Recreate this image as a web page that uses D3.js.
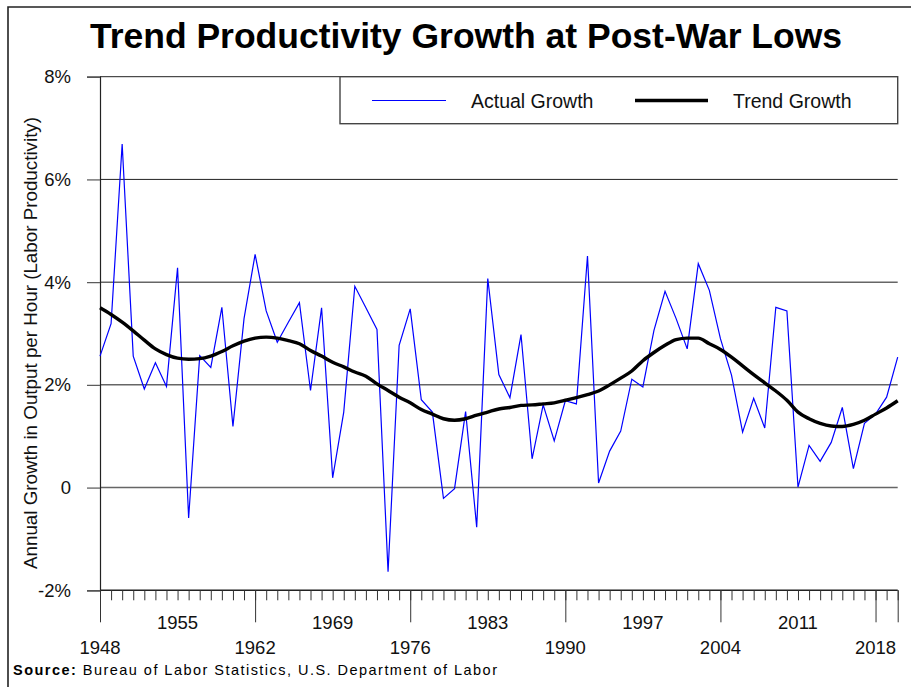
<!DOCTYPE html>
<html><head><meta charset="utf-8">
<script src="https://cdn.jsdelivr.net/npm/d3@7"></script>
<style>
html,body{margin:0;padding:0;background:#fff;}
svg{display:block;font-family:"Liberation Sans",Arial,sans-serif;}
</style></head>
<body>
<svg id="chart" width="911" height="687"></svg>
<script>
const years = [1948,1949,1950,1951,1952,1953,1954,1955,1956,1957,1958,1959,1960,1961,1962,1963,1964,1965,1966,1967,1968,1969,1970,1971,1972,1973,1974,1975,1976,1977,1978,1979,1980,1981,1982,1983,1984,1985,1986,1987,1988,1989,1990,1991,1992,1993,1994,1995,1996,1997,1998,1999,2000,2001,2002,2003,2004,2005,2006,2007,2008,2009,2010,2011,2012,2013,2014,2015,2016,2017,2018,2019,2020];
const actualGrowth = [2.56,3.19,6.69,2.56,1.92,2.43,1.97,4.28,-0.59,2.57,2.34,3.51,1.19,3.29,4.54,3.44,2.83,3.22,3.60,1.89,3.50,0.19,1.47,3.92,3.50,3.08,-1.64,2.77,3.48,1.71,1.47,-0.21,-0.02,1.48,-0.77,4.07,2.20,1.75,2.98,0.56,1.61,0.91,1.69,1.63,4.51,0.09,0.71,1.10,2.11,1.96,3.06,3.82,3.29,2.70,4.36,3.84,2.90,2.19,1.08,1.74,1.16,3.51,3.44,0.01,0.82,0.51,0.88,1.56,0.37,1.25,1.43,1.76,2.54];
const trendGrowth = [3.50,3.37,3.22,3.05,2.87,2.70,2.59,2.52,2.50,2.51,2.56,2.65,2.76,2.85,2.91,2.93,2.91,2.86,2.80,2.67,2.56,2.44,2.35,2.25,2.17,2.02,1.89,1.76,1.65,1.52,1.43,1.34,1.31,1.34,1.41,1.47,1.53,1.56,1.60,1.61,1.63,1.65,1.70,1.75,1.81,1.88,2.00,2.13,2.27,2.47,2.63,2.77,2.88,2.91,2.91,2.80,2.69,2.54,2.37,2.20,2.04,1.88,1.70,1.47,1.34,1.25,1.20,1.19,1.23,1.31,1.43,1.55,1.69];
const yTicks = [-2,0,2,4,6,8];
const yTickLabels = ["-2%","0","2%","4%","6%","8%"];
const xLabelsLow = [1948,1962,1976,1990,2004,2018];
const xLabelsHigh = [1955,1969,1983,1997,2011];
const xMajorTicks = [1948,1962,1976,1990,2004,2018,2020];

const svg = d3.select("#chart");
const L = 100, R = 897.7, T = 76.7, B = 590.3;
const x = d3.scaleLinear().domain([1948,2020]).range([L,R]);
const y = d3.scaleLinear().domain([-2,8]).range([B,T]);

// outer frame
svg.append("path").attr("d","M8,690 L8,7 L915,7").attr("fill","none").attr("stroke","#222").attr("stroke-width",1.6);

// title
svg.append("text").attr("x",466).attr("y",47.5).attr("text-anchor","middle")
  .attr("font-size",35.5).attr("font-weight","bold").attr("fill","#000")
  .text("Trend Productivity Growth at Post-War Lows");

// grid lines
svg.append("g").selectAll("line").data(yTicks).join("line")
  .attr("x1",L).attr("x2",R).attr("y1",d=>y(d)).attr("y2",d=>y(d))
  .attr("stroke",d=>d>=6?"#222":"#666").attr("stroke-width",d=>d>=6?1:1.5);

// y axis
const yAxis = d3.axisLeft(y).tickValues(yTicks).tickSize(13).tickPadding(16)
  .tickFormat(d=>yTickLabels[yTicks.indexOf(d)]);
const gy = svg.append("g").attr("transform",`translate(${L},0)`).call(yAxis);
gy.select(".domain").attr("stroke","#222").attr("stroke-width",1.2);
gy.selectAll(".tick line").attr("stroke","#555").attr("stroke-width",1.2);
gy.selectAll(".tick text").attr("font-size",18.5).attr("fill","#111").attr("font-family","Liberation Sans, Arial, sans-serif");

// x axis minor ticks
const xAxis = d3.axisBottom(x).tickValues(years).tickSize(10).tickFormat("");
const gx = svg.append("g").attr("transform",`translate(0,${B})`).call(xAxis);
gx.select(".domain").attr("stroke","#222").attr("stroke-width",1.2).attr("d",`M${L},0H${R}`);
gx.selectAll(".tick line").attr("stroke","#333").attr("stroke-width",1);
// major ticks
const xAxisMajor = d3.axisBottom(x).tickValues(xMajorTicks).tickSize(32).tickFormat("");
const gx2 = svg.append("g").attr("transform",`translate(0,${B})`).call(xAxisMajor);
gx2.select(".domain").remove();
gx2.selectAll(".tick line").attr("stroke","#333").attr("stroke-width",1);

svg.append("g").selectAll("text").data(xLabelsHigh).join("text")
  .attr("x",d=>x(d)).attr("y",629).attr("text-anchor","middle")
  .attr("font-size",18.5).attr("fill","#111").text(d=>d);
svg.append("g").selectAll("text").data(xLabelsLow).join("text")
  .attr("x",d=>x(d)).attr("y",654).attr("text-anchor","middle")
  .attr("font-size",18.5).attr("fill","#111").text(d=>d);

// y axis title
svg.append("text").attr("transform","translate(37,343) rotate(-90)")
  .attr("text-anchor","middle").attr("font-size",18.8).attr("fill","#111")
  .text("Annual Growth in Output per Hour (Labor Productivity)");

// lines
const idx = d3.range(years.length);
const lineA = d3.line().x(i=>x(years[i])).y(i=>y(actualGrowth[i]));
const lineT = d3.line().x(i=>x(years[i])).y(i=>y(trendGrowth[i])).curve(d3.curveMonotoneX);
svg.append("path").attr("d",lineA(idx)).attr("fill","none").attr("stroke","#0000ff").attr("stroke-width",1.2).attr("stroke-linejoin","miter");
svg.append("path").attr("d",lineT(idx)).attr("fill","none").attr("stroke","#000").attr("stroke-width",3.4).attr("stroke-linejoin","round");

// legend
const lg = svg.append("g");
lg.append("rect").attr("x",340).attr("y",T).attr("width",R-340).attr("height",47)
  .attr("fill","#fff").attr("stroke","#444").attr("stroke-width",1.4);
lg.append("line").attr("x1",372).attr("x2",446).attr("y1",100.5).attr("y2",100.5).attr("stroke","#0000ff").attr("stroke-width",1.2);
lg.append("text").attr("x",471).attr("y",107.5).attr("font-size",19.5).attr("fill","#111").text("Actual Growth");
lg.append("line").attr("x1",635).attr("x2",708).attr("y1",100.5).attr("y2",100.5).attr("stroke","#000").attr("stroke-width",3.4);
lg.append("text").attr("x",733).attr("y",107.5).attr("font-size",19.5).attr("fill","#111").text("Trend Growth");

// source
const src = svg.append("text").attr("x",13).attr("y",675).attr("font-size",14.5).attr("fill","#000")
  .attr("textLength",484).attr("lengthAdjust","spacing");
src.append("tspan").attr("font-weight","bold").text("Source:");
src.append("tspan").text(" Bureau of Labor Statistics, U.S. Department of Labor");
</script>
</body></html>
